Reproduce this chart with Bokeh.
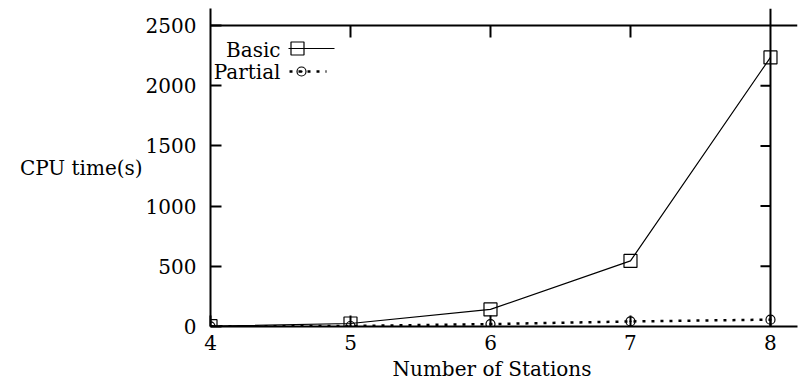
import math
from bokeh.plotting import figure
from bokeh.models import Range1d, Span, Label, FixedTicker, Title
from bokeh.embed import file_html
from bokeh.resources import INLINE

stations = [4, 5, 6, 7, 8]
basic = [3, 25, 142, 545, 2235]
partial = [1, 4, 20, 42, 57]
x_ticks = [4, 5, 6, 7, 8]
y_ticks = [0, 500, 1000, 1500, 2000, 2500]

FONT = "DejaVu Serif"
FS = "20px"

W, H = 799, 385
BL, BR, BT, BB = 210, 2, 8, 59
p = figure(width=W, height=H, output_backend="svg", toolbar_location=None,
           x_range=Range1d(4, 8.193), y_range=Range1d(0, 2641),
           min_border_left=BL, min_border_right=BR, min_border_top=BT, min_border_bottom=BB)
p.outline_line_color = None
p.grid.visible = False
p.background_fill_color = "white"

for ax in (p.xaxis[0], p.yaxis[0]):
    ax.axis_line_width = 2
    ax.axis_line_color = "black"
    ax.major_tick_in = 11
    ax.major_tick_out = 0
    ax.major_tick_line_width = 2
    ax.minor_tick_line_color = None
    ax.major_label_text_font = FONT
    ax.major_label_text_font_size = FS
    ax.major_label_text_color = "black"
    ax.axis_label_text_font = FONT
    ax.axis_label_text_font_size = FS
    ax.axis_label_text_font_style = "normal"
    ax.axis_label_text_color = "black"
p.xaxis.ticker = FixedTicker(ticks=x_ticks)
p.yaxis.ticker = FixedTicker(ticks=y_ticks)
p.xaxis.major_label_standoff = 8
p.yaxis.major_label_standoff = 14

p.yaxis.axis_label = "CPU time(s)"
p.yaxis.axis_label_orientation = "horizontal"
p.yaxis.axis_label_standoff = 0

p.add_layout(Title(text="Number of Stations", align="left", offset=182, standoff=5,
                   text_font=FONT, text_font_size=FS, text_font_style="normal",
                   text_color="black"), "below")

# box lines at top value and last station
p.add_layout(Span(location=y_ticks[-1], dimension="width", line_color="black", line_width=2))
p.add_layout(Span(location=x_ticks[-1], dimension="height", line_color="black", line_width=2))
# inner ticks on top and right lines
p.ray(x=x_ticks[1:-1], y=[y_ticks[-1]] * 3, length=12, length_units="screen",
      angle=-math.pi / 2, line_color="black", line_width=2)
p.ray(x=[x_ticks[-1]] * 4, y=y_ticks[1:-1], length=10, length_units="screen",
      angle=math.pi, line_color="black", line_width=2)

# data
p.line(stations, basic, line_color="black", line_width=1.2)
p.scatter(stations, basic, marker="square", size=13, fill_color=None,
          line_color="black", line_width=1.2)
p.line(stations, partial, line_color="black", line_width=2.5, line_dash="3 6")
p.scatter(stations, partial, marker="circle_dot", size=9, fill_color=None,
          line_color="black", line_width=1.2)

# px helpers (window px -> data)
fx0, fx1 = 210, 797
fy0, fy1 = 8, 326
def dx(px):
    return 4 + (px - fx0) * (8.193 - 4) / (fx1 - fx0)
def dy(py):
    return (fy1 - py) * 2641 / (fy1 - fy0)

# legend
for txt, py in (("Basic", 49), ("Partial", 71)):
    p.add_layout(Label(x=dx(280), y=dy(py), text=txt, text_font=FONT, text_font_size=FS,
                       text_color="black", text_align="right", text_baseline="middle"))
p.line([dx(288), dx(334)], [dy(48), dy(48)], line_color="black", line_width=1.2)
p.scatter([dx(297)], [dy(48)], marker="square", size=13, fill_color=None, line_color="black", line_width=1.2)
p.line([dx(289), dx(326)], [dy(71), dy(71)], line_color="black", line_width=2.5, line_dash="3 6")
p.scatter([dx(301)], [dy(71)], marker="circle_dot", size=9, fill_color=None, line_color="black", line_width=1.2)

open("out.html", "w").write(file_html(p, INLINE))
